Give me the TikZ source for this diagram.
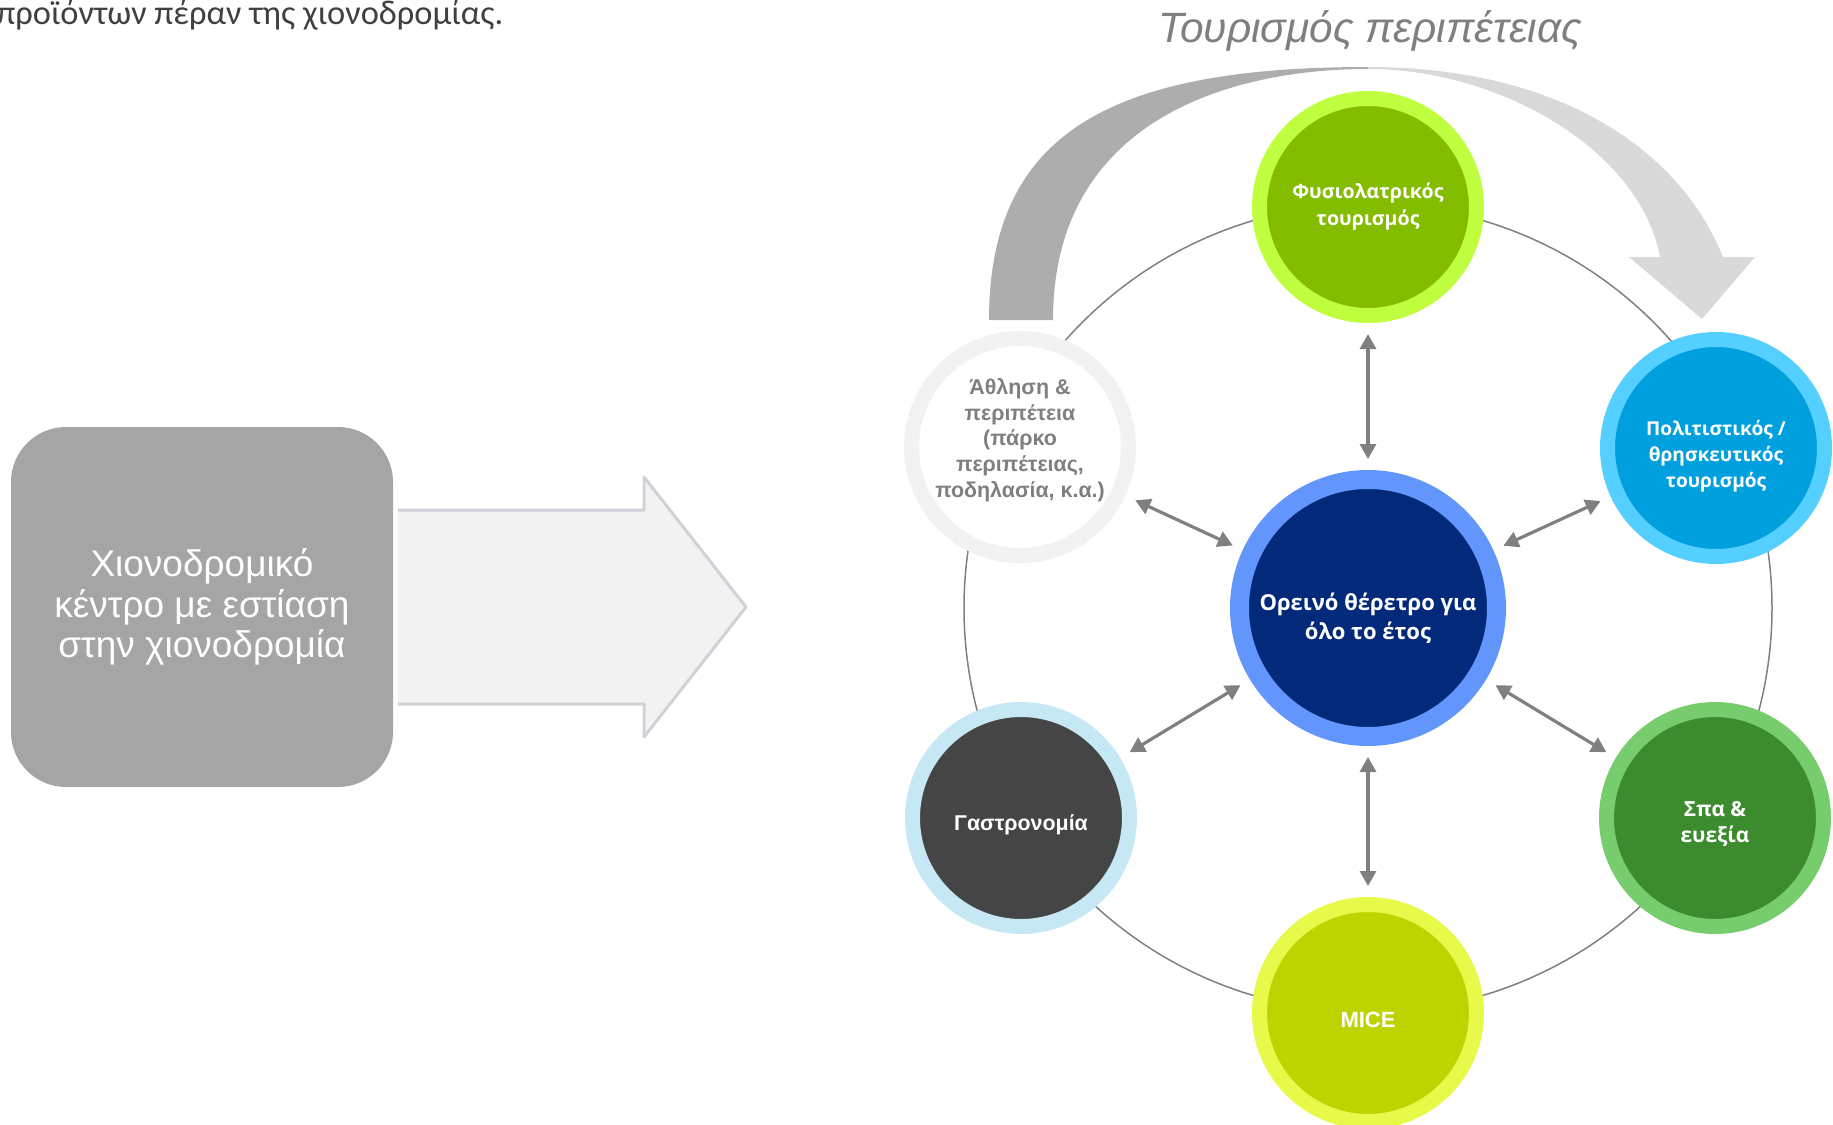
\documentclass[tikz,border=0pt]{standalone}
\usepackage{fontspec}
\setmainfont{Liberation Sans}
\newfontfamily\opensans{Open Sans}
\newfontfamily\carlito{Carlito}
\usetikzlibrary{arrows.meta}

\definecolor{introgray}{HTML}{404040}
\definecolor{titlegray}{HTML}{7F7F7F}
\definecolor{boxgray}{HTML}{A5A5A5}
\definecolor{arrowfill}{HTML}{F2F2F2}
\definecolor{arrowline}{HTML}{D1D1D9}
\definecolor{darkarc}{HTML}{ADADAD}
\definecolor{lightarc}{HTML}{D9D9D9}
\definecolor{ringgray}{HTML}{808080}
\definecolor{hubring}{HTML}{6396FC}
\definecolor{hubfill}{HTML}{02297A}
\definecolor{fysioring}{HTML}{BFFF3F}
\definecolor{fysiofill}{HTML}{84BC00}
\definecolor{cultring}{HTML}{55CFFF}
\definecolor{cultfill}{HTML}{00A0DF}
\definecolor{sparing}{HTML}{77CD6E}
\definecolor{spafill}{HTML}{3D8B2F}
\definecolor{micering}{HTML}{E7FA4A}
\definecolor{micefill}{HTML}{BDD400}
\definecolor{gastroring}{HTML}{C6E8F4}
\definecolor{gastrofill}{HTML}{454545}
\definecolor{sportring}{HTML}{F2F2F2}

% outline of the bent arrow over the ring
\newcommand{\bendarrow}{(989,320) .. controls (989,130) and (1115,67) .. (1368,67)
  .. controls (1560,67) and (1680,150) .. (1723,257) -- (1755,257) -- (1702,319)
  -- (1629,257) -- (1660,257) .. controls (1640,150) and (1500,69) .. (1368,69)
  .. controls (1230,69) and (1053,120) .. (1053,320) -- cycle}

\begin{document}
\begin{tikzpicture}[x=0.5pt, y=-0.5pt,
    ringnode/.style={circle, inner sep=0pt, minimum size=108.5pt, line width=7.5pt},
    nodetext/.style={align=center, inner sep=0pt, text=white},
    dblarrow/.style={{Triangle[length=7.5pt,width=8pt]}-{Triangle[length=7.5pt,width=8pt]}, draw=ringgray, line width=1.6pt, shorten >=5.5pt, shorten <=5.5pt}]
    \useasboundingbox (0,0) rectangle (1833,1125);

    % text above, cut at the left
    \node[anchor=base west, inner sep=0pt, text=introgray, font=\carlito\fontsize{17.2}{20}\selectfont] (intro) at (-4,24) {προϊόντων πέραν της χιονοδρομίας.};
    \node[anchor=base, inner sep=0pt, text=titlegray, font=\itshape\fontsize{21.2}{25}\selectfont] (title) at (1370,42) {Τουρισμός περιπέτειας};

    % ski centre and wide arrow
    \node[fill=boxgray, rounded corners=27.5pt, minimum width=191pt, minimum height=180pt, align=center, text=white, font=\fontsize{18.5}{20.25}\selectfont] (ski) at (202,607) {Χιονοδρομικό\\κέντρο με εστίαση\\στην χιονοδρομία};
    \filldraw[fill=arrowfill, draw=arrowline, line width=1.5pt, line join=round] (398,510) -- (644,510) -- (644,477) -- (746,607) -- (644,737) -- (644,704) -- (398,704);

    % bent arrow, dark on the left and light on the right
    \begin{scope}
        \clip (900,40) rectangle (1368,330);
        \fill[darkarc] \bendarrow;
    \end{scope}
    \begin{scope}
        \clip (1368,40) rectangle (1800,330);
        \fill[lightarc] \bendarrow;
    \end{scope}

    % ring
    \coordinate (o) at (1368,608);
    \draw[ringgray, line width=0.75pt] (o) circle[radius=202pt];

    % hub and the six products
    \node[ringnode, minimum size=128.5pt, line width=9.5pt, draw=hubring, fill=hubfill] (hub) at (o) {};
    \node[ringnode, draw=fysioring, fill=fysiofill] (fysio) at (1368,207) {};
    \node[ringnode, draw=cultring, fill=cultfill] (cult) at (1716,448) {};
    \node[ringnode, draw=sparing, fill=spafill] (spa) at (1715,818) {};
    \node[ringnode, draw=micering, fill=micefill] (mice) at (1368,1013) {};
    \node[ringnode, draw=gastroring, fill=gastrofill] (gastro) at (1021,818) {};
    \node[ringnode, draw=sportring, fill=white] (sport) at (1020,447) {};

    % texts, set a little off centre as in the slide
    \node[nodetext, font=\opensans\bfseries\fontsize{11}{14.5}\selectfont] (hubtext) at ([yshift=-5pt]hub.center) {Ορεινό θέρετρο για\\όλο το έτος};
    \node[nodetext, font=\opensans\bfseries\fontsize{9.8}{13.5}\selectfont] (fysiotext) at (fysio.center) {Φυσιολατρικός\\τουρισμός};
    \node[nodetext, font=\opensans\bfseries\fontsize{9.55}{12.9}\selectfont] (culttext) at ([yshift=-4pt]cult.center) {Πολιτιστικός /\\θρησκευτικός\\τουρισμός};
    \node[nodetext, font=\opensans\bfseries\fontsize{10.4}{12.9}\selectfont] (spatext) at ([yshift=-3pt]spa.center) {Σπα \&\\ευεξία};
    \node[nodetext, font=\bfseries\fontsize{11}{13}\selectfont] (micetext) at ([yshift=-3.5pt]mice.center) {MICE};
    \node[nodetext, font=\bfseries\fontsize{10.7}{13}\selectfont] (gastrotext) at ([yshift=-3.5pt]gastro.center) {Γαστρονομία};
    \node[nodetext, text=titlegray, font=\bfseries\fontsize{10.7}{12.85}\selectfont] (sporttext) at ([yshift=3.5pt]sport.center) {Άθληση \&\\περιπέτεια\\(πάρκο\\περιπέτειας,\\ποδηλασία, κ.α.)};

    % links to the hub
    \draw[dblarrow] (hub) -- (fysio);
    \draw[dblarrow] (hub) -- (cult);
    \draw[dblarrow] (hub) -- (spa);
    \draw[dblarrow] (hub) -- (mice);
    \draw[dblarrow] (hub) -- (gastro);
    \draw[dblarrow] (hub) -- (sport);
\end{tikzpicture}
\end{document}
